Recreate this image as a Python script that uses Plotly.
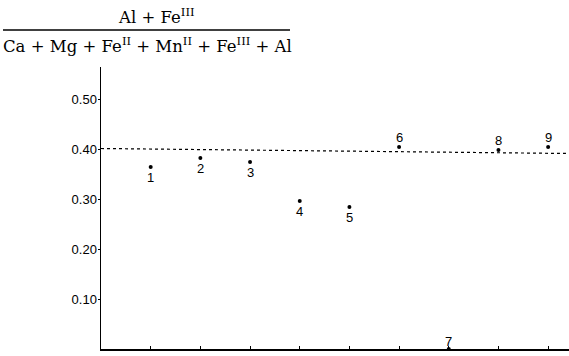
import plotly.graph_objects as go

samples = [1, 2, 3, 4, 5, 6, 7, 8, 9]
labels = ["1", "2", "3", "4", "5", "6", "7", "8", "9"]
ratio = [0.364, 0.382, 0.374, 0.296, 0.284, 0.404, 0.0, 0.398, 0.404]
label_side = [-1, -1, -1, -1, -1, 1, 1, 1, 1]   # -1 below the dot, 1 above
ref_level = [0.401, 0.391]
y_ticks = [0.10, 0.20, 0.30, 0.40, 0.50]
x_ticks = [1, 2, 3, 4, 5, 6, 7, 8, 9]

fig = go.Figure()
fig.add_trace(go.Scatter(
    x=samples, y=ratio, mode="markers",
    marker=dict(color="black", size=4),
    cliponaxis=False, showlegend=False, hoverinfo="skip",
))
for xv, yv, lab, side in zip(samples, ratio, labels, label_side):
    fig.add_annotation(x=xv, y=yv, text=lab, showarrow=False,
                       yshift=10 * side if yv > 0 else 8,
                       font=dict(family="Liberation Sans", size=13, color="black"))

fig.add_shape(type="line", xref="paper", yref="y", x0=0, x1=1,
              y0=ref_level[0], y1=ref_level[1],
              line=dict(color="black", width=1.2, dash="dot"))

serif = "DejaVu Serif"
fig.update_layout(
    width=569, height=356,
    margin=dict(l=101, r=0, t=67, b=7),
    paper_bgcolor="white", plot_bgcolor="white",
    xaxis=dict(range=[0, 9.42], tickvals=x_ticks, showticklabels=False,
               ticks="inside", ticklen=3, tickcolor="black", showline=True,
               linecolor="black", linewidth=1.5, showgrid=False, zeroline=False),
    yaxis=dict(range=[0, 0.564], tickvals=y_ticks, tickformat=".2f",
               ticks="outside", ticklen=2, tickcolor="black", showline=True,
               linecolor="black", linewidth=1.5, showgrid=False, zeroline=False,
               ticklabelstandoff=-2,
               tickfont=dict(family="Liberation Sans", size=13, color="black")),
)
fig.add_annotation(xref="paper", yref="paper", x=(156 - 101) / 468, y=(356 - 29 - 7) / 282,
                   xanchor="center", yanchor="bottom", showarrow=False,
                   text="Al + Fe<sup>III</sup>",
                   font=dict(family=serif, size=16.5, color="black"))
fig.add_annotation(xref="paper", yref="paper", x=(147 - 101) / 468, y=(356 - 32 - 7) / 282,
                   xanchor="center", yanchor="top", showarrow=False,
                   text="Ca + Mg + Fe<sup>II</sup> + Mn<sup>II</sup> + Fe<sup>III</sup> + Al",
                   font=dict(family=serif, size=16.5, color="black"))
fig.add_shape(type="line", xref="paper", yref="paper",
              x0=(3 - 101) / 468, x1=(290 - 101) / 468,
              y0=(356 - 30 - 7) / 282, y1=(356 - 30 - 7) / 282,
              line=dict(color="black", width=1.5))

fig.write_html("out.html", config={"displayModeBar": False, "staticPlot": True},
               post_script="document.body.style.margin='0';document.body.style.overflow='hidden';")
